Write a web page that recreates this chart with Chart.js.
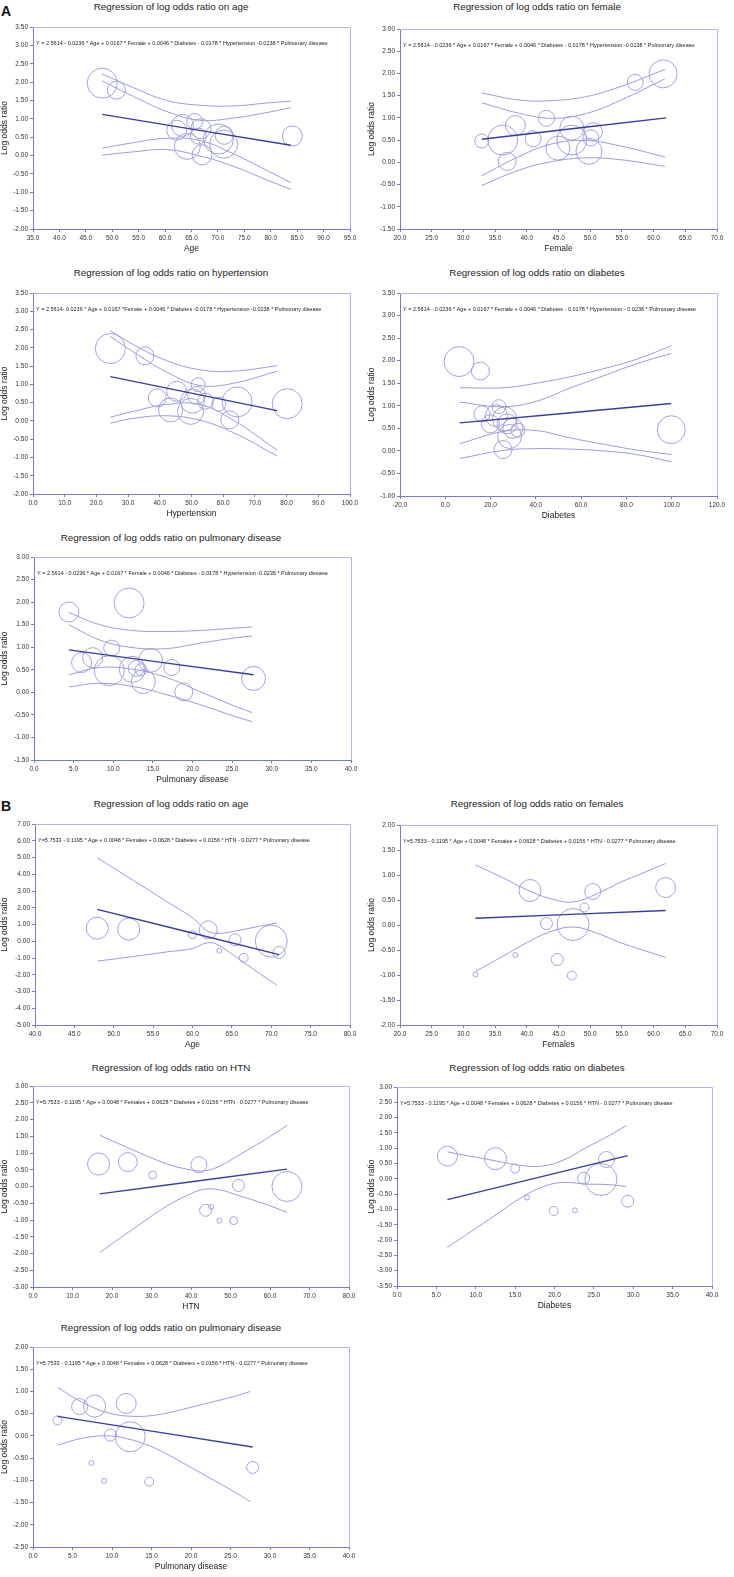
<!DOCTYPE html>
<html>
<head>
<meta charset="utf-8">
<script src="https://cdn.jsdelivr.net/npm/chart.js@4.4.0/dist/chart.umd.min.js"></script>
<style>
  body { margin: 0; background: #fff; width: 734px; height: 1577px; position: relative; overflow: hidden; }
  canvas { position: absolute; }
  .ttl { position: absolute; width: 320px; text-align: center; font: 9.8px "Liberation Sans", Arial, sans-serif; line-height: 12px; color: #222; white-space: nowrap; }
  .tag { position: absolute; font: bold 14px "Liberation Sans", Arial, sans-serif; line-height: 14px; color: #111; }
</style>
</head>
<body>
<div class="tag" style="left:1px;top:4px">A</div>
<div class="tag" style="left:1px;top:799px">B</div>
<script>
// ---- A: age ----
const aAgeX = [48.1, 50.8, 62.2, 63.3, 64.2, 65.6, 66.8, 66.3, 67.0, 70.1, 71.1, 71.2, 84.1];
const aAgeY = [1.97, 1.78, 0.69, 0.82, 0.25, 0.93, 0.73, 0.53, 0.02, 0.45, 0.31, 0.55, 0.53];
const aAgeR = [15, 9, 10, 11, 13, 8, 10, 8, 10, 15, 14, 9, 10];
const aAgeFitX = [48.1, 83.8];
const aAgeFitY = [1.12, 0.28];
const aAgeBandX = [48.1, 54.0, 60.3, 66.6, 72.9, 79.2, 83.8];
const aAgeUO = [2.22, 1.85, 1.50, 1.37, 1.35, 1.43, 1.48];
const aAgeUI = [2.03, 1.61, 1.20, 0.96, 1.02, 1.17, 1.30];
const aAgeLI = [0.20, 0.35, 0.47, 0.41, 0.05, -0.40, -0.74];
const aAgeLO = [0.01, 0.10, 0.16, -0.01, -0.29, -0.66, -0.92];

// ---- A: female ----
const aFemX = [32.9, 36.2, 36.9, 38.2, 41.0, 43.1, 44.9, 47.1, 47.1, 49.8, 50.5, 50.1, 57.1, 61.5];
const aFemY = [0.48, 0.50, 0.02, 0.83, 0.53, 0.99, 0.32, 0.77, 0.50, 0.25, 0.69, 0.55, 1.80, 1.99];
const aFemR = [7, 15, 9, 10, 8, 8, 12, 12, 15, 13, 9, 8, 8, 14];
const aFemFitX = [32.9, 62.0];
const aFemFitY = [0.52, 1.00];
const aFemBandX = [32.9, 38.9, 44.1, 49.4, 54.7, 61.8];
const aFemUO = [1.56, 1.40, 1.39, 1.48, 1.70, 2.09];
const aFemUI = [1.34, 1.10, 0.99, 1.10, 1.39, 1.88];
const aFemLI = [-0.30, 0.14, 0.42, 0.49, 0.37, 0.12];
const aFemLO = [-0.52, -0.17, 0.02, 0.10, 0.06, -0.09];

// ---- A: hypertension ----
const aHtnX = [24.4, 35.3, 39.2, 45.3, 43.4, 49.7, 50.3, 52.1, 51.6, 54.4, 58.6, 62.1, 64.4, 80.2];
const aHtnY = [1.98, 1.78, 0.63, 0.81, 0.30, 0.26, 0.54, 0.99, 0.70, 0.54, 0.46, 0.03, 0.52, 0.47];
const aHtnR = [15, 9, 9, 10, 12, 13, 12, 7, 9, 8, 7, 9, 15, 15];
const aHtnFitX = [24.4, 77.0];
const aHtnFitY = [1.21, 0.28];
const aHtnBandX = [24.4, 31.6, 42.1, 52.6, 63.2, 77.0];
const aHtnUO = [2.47, 2.09, 1.65, 1.40, 1.36, 1.51];
const aHtnUI = [2.31, 1.89, 1.34, 0.97, 1.03, 1.36];
const aHtnLI = [0.10, 0.26, 0.45, 0.45, 0.02, -0.80];
const aHtnLO = [-0.06, 0.07, 0.14, 0.02, -0.32, -0.96];

// ---- A: diabetes ----
const aDiaX = [6.1, 15.5, 16.2, 23.7, 19.9, 22.5, 26.2, 27.3, 29.9, 28.4, 32.1, 25.5, 99.8];
const aDiaY = [1.98, 1.77, 0.82, 0.98, 0.60, 0.78, 0.71, 0.60, 0.50, 0.32, 0.46, 0.03, 0.47];
const aDiaR = [15, 9, 8, 7, 9, 11, 12, 10, 10, 12, 7, 9, 14];
const aDiaFitX = [6.4, 99.8];
const aDiaFitY = [0.62, 1.05];
const aDiaBandX = [6.4, 25.5, 40.2, 54.9, 69.7, 84.4, 99.8];
const aDiaUO = [1.40, 1.40, 1.50, 1.64, 1.82, 2.03, 2.33];
const aDiaUI = [1.08, 0.98, 1.10, 1.39, 1.66, 1.93, 2.16];
const aDiaLI = [0.16, 0.43, 0.45, 0.29, 0.15, 0.02, -0.08];
const aDiaLO = [-0.17, 0.01, 0.05, 0.04, 0.00, -0.08, -0.24];

// ---- A: pulmonary disease ----
const aPulX = [4.4, 12.0, 6.0, 7.4, 9.8, 9.5, 12.4, 12.9, 13.5, 13.8, 14.7, 17.4, 18.9, 27.7];
const aPulY = [1.78, 1.98, 0.66, 0.77, 0.98, 0.48, 0.51, 0.53, 0.50, 0.24, 0.71, 0.55, 0.01, 0.31];
const aPulR = [10, 15, 10, 10, 8, 15, 13, 8, 6, 12, 12, 8, 9, 12];
const aPulFitX = [4.4, 27.7];
const aPulFitY = [0.94, 0.39];
const aPulBandX = [4.4, 8.3, 12.5, 16.7, 20.9, 25.1, 27.5];
const aPulUO = [1.77, 1.50, 1.37, 1.35, 1.37, 1.42, 1.45];
const aPulUI = [1.50, 1.16, 0.99, 0.97, 1.09, 1.20, 1.25];
const aPulLI = [0.39, 0.55, 0.51, 0.33, 0.02, -0.29, -0.45];
const aPulLO = [0.12, 0.20, 0.13, -0.05, -0.27, -0.52, -0.65];

// ---- B: age ----
const bAgeX = [47.9, 51.9, 60.0, 62.0, 63.4, 65.4, 66.5, 70.0, 71.0];
const bAgeY = [0.78, 0.72, 0.39, 0.68, -0.57, 0.09, -0.99, 0.01, -0.67];
const bAgeR = [11, 11, 4, 9, 2.5, 6, 4.5, 16, 6];
const bAgeFitX = [47.9, 71.0];
const bAgeFitY = [1.90, -0.80];
const bAgeBandX = [47.9, 52.5, 56.7, 60.1, 61.8, 63.1, 65.2, 67.7, 70.7];
const bAgeUp = [4.98, 3.63, 2.38, 1.36, 0.64, 0.47, 0.59, 0.82, 1.09];
const bAgeLo = [-1.19, -0.91, -0.64, -0.42, -0.10, -0.18, -0.83, -1.66, -2.62];

// ---- B: females ----
const bFemX = [31.9, 38.2, 40.5, 43.1, 44.8, 47.1, 47.3, 49.1, 50.4, 61.9];
const bFemY = [-0.99, -0.60, 0.69, 0.03, -0.69, -1.01, 0.01, 0.35, 0.67, 0.75];
const bFemR = [2.5, 2.5, 11, 6, 6, 4.5, 16, 4.5, 8, 10];
const bFemFitX = [31.9, 61.9];
const bFemFitY = [0.135, 0.29];
const bFemBandX = [31.9, 36.3, 39.9, 43.6, 47.3, 51.0, 54.7, 58.3, 61.9];
const bFemUp = [1.20, 0.94, 0.71, 0.53, 0.46, 0.62, 0.85, 1.04, 1.23];
const bFemLo = [-0.93, -0.62, -0.36, -0.14, -0.04, -0.16, -0.35, -0.50, -0.65];

// ---- B: HTN ----
const bHtnX = [16.6, 24.0, 30.3, 42.0, 43.7, 45.1, 47.2, 50.8, 52.0, 64.3];
const bHtnY = [0.67, 0.73, 0.34, 0.65, -0.71, -0.61, -1.02, -1.02, 0.03, 0.00];
const bHtnR = [11, 9.5, 4, 8, 6, 2.5, 2.5, 4, 6, 15];
const bHtnFitX = [16.9, 64.3];
const bHtnFitY = [-0.22, 0.52];
const bHtnBandX = [16.9, 25.3, 33.8, 39.7, 43.5, 47.3, 52.3, 58.2, 64.3];
const bHtnUp = [1.53, 1.09, 0.68, 0.50, 0.47, 0.61, 0.95, 1.36, 1.82];
const bHtnLo = [-1.97, -1.27, -0.59, -0.23, -0.08, -0.10, -0.28, -0.50, -0.77];

// ---- B: diabetes ----
const bDiaX = [6.4, 12.5, 15.0, 16.5, 19.9, 22.6, 23.7, 25.9, 26.6, 29.3];
const bDiaY = [0.74, 0.66, 0.34, -0.61, -1.05, -1.03, 0.02, -0.02, 0.63, -0.73];
const bDiaR = [10, 11, 4.5, 2.5, 4.5, 2.5, 6, 16, 8, 6];
const bDiaFitX = [6.4, 29.3];
const bDiaFitY = [-0.68, 0.76];
const bDiaBandX = [6.4, 9.3, 12.7, 15.6, 18.6, 21.1, 24.1, 27.0, 29.1];
const bDiaUp = [0.88, 0.74, 0.58, 0.44, 0.42, 0.61, 1.03, 1.42, 1.74];
const bDiaLo = [-2.24, -1.74, -1.15, -0.64, -0.25, -0.12, -0.17, -0.19, -0.25];

// ---- B: pulmonary disease ----
const bPulX = [3.1, 5.9, 7.8, 7.4, 9.0, 9.8, 11.8, 12.3, 14.7, 27.8];
const bPulY = [0.35, 0.66, 0.67, -0.61, -1.01, 0.02, 0.73, -0.02, -1.03, -0.71];
const bPulR = [4.5, 8, 11, 2.5, 2.5, 6, 10, 15, 4.5, 6];
const bPulFitX = [3.1, 27.8];
const bPulFitY = [0.44, -0.25];
const bPulBandX = [3.1, 6.3, 9.7, 12.7, 15.6, 19.0, 22.4, 25.3, 27.5];
const bPulUp = [1.09, 0.75, 0.51, 0.44, 0.47, 0.60, 0.75, 0.88, 1.00];
const bPulLo = [-0.21, -0.05, 0.00, -0.10, -0.29, -0.61, -0.95, -1.24, -1.48];

const formulaA = 'Y = 2.5614 - 0.0236 * Age + 0.0167 * Female + 0.0046 * Diabetes - 0.0178 * Hypertension -0.0238 * Pulmonary disease';
const formulaA3 = 'Y = 2.5614- 0.0236 * Age + 0.0167 *Female + 0.0046 * Diabetes -0.0178 * Hypertension -0.0238 * Pulmonary disease';
const formulaA4 = 'Y = 2.5614 - 0.0236 * Age + 0.0167 * Female + 0.0046 * Diabetes - 0.0178 * Hypertension - 0.0238 * Pulmonary disease';
const formulaB = 'Y=5.7533 - 0.1195 * Age + 0.0048 * Females + 0.0628 * Diabetes + 0.0156 * HTN - 0.0277 * Pulmonary disease';

const FONT = '"Liberation Sans", Arial, sans-serif';
const FIT_COLOR = '#3a3aa6';
const BAND_COLOR = '#9a9ade';
const BUBBLE_COLOR = '#a2a2e2';
const AXIS_COLOR = '#7a7acc';

function pts(xs, ys) { return xs.map((x, i) => ({ x: x, y: ys[i] })); }

function bubbleSet(xs, ys, rs) {
    return { type: 'bubble', data: xs.map((x, i) => ({ x: x, y: ys[i], r: rs[i] })),
        backgroundColor: 'rgba(0,0,0,0)', borderColor: BUBBLE_COLOR, borderWidth: 1, order: 3 };
}

function lineSet(xs, ys, color, width) {
    return { type: 'line', data: pts(xs, ys), borderColor: color, borderWidth: width,
        pointRadius: 0, tension: 0.4, fill: false, order: 1 };
}

// plot box = [left, right, top, bottom] on the page, titleY = title centre
const panels = [
    { title: 'Regression of log odds ratio on age', xTitle: 'Age', formula: formulaA, fw: 292,
      xr: [35, 95, 5], yr: [-2, 3.5, 0.5], box: [33, 350, 21, 229], titleY: 7, col: 0,
      sets: [bubbleSet(aAgeX, aAgeY, aAgeR), lineSet(aAgeFitX, aAgeFitY, FIT_COLOR, 1.4),
             lineSet(aAgeBandX, aAgeUO, BAND_COLOR, 1), lineSet(aAgeBandX, aAgeUI, BAND_COLOR, 1),
             lineSet(aAgeBandX, aAgeLI, BAND_COLOR, 1), lineSet(aAgeBandX, aAgeLO, BAND_COLOR, 1)] },
    { title: 'Regression of log odds ratio on female', xTitle: 'Female', formula: formulaA, fw: 292,
      xr: [20, 70, 5], yr: [-1.5, 3, 0.5], box: [400, 717, 23, 229], titleY: 7, col: 1,
      sets: [bubbleSet(aFemX, aFemY, aFemR), lineSet(aFemFitX, aFemFitY, FIT_COLOR, 1.4),
             lineSet(aFemBandX, aFemUO, BAND_COLOR, 1), lineSet(aFemBandX, aFemUI, BAND_COLOR, 1),
             lineSet(aFemBandX, aFemLI, BAND_COLOR, 1), lineSet(aFemBandX, aFemLO, BAND_COLOR, 1)] },
    { title: 'Regression of log odds ratio on hypertension', xTitle: 'Hypertension', formula: formulaA3, fw: 286,
      xr: [0, 100, 10], yr: [-2, 3.5, 0.5], box: [33, 350, 287, 494], titleY: 273, col: 0,
      sets: [bubbleSet(aHtnX, aHtnY, aHtnR), lineSet(aHtnFitX, aHtnFitY, FIT_COLOR, 1.4),
             lineSet(aHtnBandX, aHtnUO, BAND_COLOR, 1), lineSet(aHtnBandX, aHtnUI, BAND_COLOR, 1),
             lineSet(aHtnBandX, aHtnLI, BAND_COLOR, 1), lineSet(aHtnBandX, aHtnLO, BAND_COLOR, 1)] },
    { title: 'Regression of log odds ratio on diabetes', xTitle: 'Diabetes', formula: formulaA4, fw: 293,
      xr: [-20, 120, 20], yr: [-1, 3.5, 0.5], box: [400, 717, 287, 496], titleY: 273, col: 1,
      sets: [bubbleSet(aDiaX, aDiaY, aDiaR), lineSet(aDiaFitX, aDiaFitY, FIT_COLOR, 1.4),
             lineSet(aDiaBandX, aDiaUO, BAND_COLOR, 1), lineSet(aDiaBandX, aDiaUI, BAND_COLOR, 1),
             lineSet(aDiaBandX, aDiaLI, BAND_COLOR, 1), lineSet(aDiaBandX, aDiaLO, BAND_COLOR, 1)] },
    { title: 'Regression of log odds ratio on pulmonary disease', xTitle: 'Pulmonary disease', formula: formulaA, fw: 291,
      xr: [0, 40, 5], yr: [-1.5, 3, 0.5], box: [34, 352, 551, 760], titleY: 538, col: 0,
      sets: [bubbleSet(aPulX, aPulY, aPulR), lineSet(aPulFitX, aPulFitY, FIT_COLOR, 1.4),
             lineSet(aPulBandX, aPulUO, BAND_COLOR, 1), lineSet(aPulBandX, aPulUI, BAND_COLOR, 1),
             lineSet(aPulBandX, aPulLI, BAND_COLOR, 1), lineSet(aPulBandX, aPulLO, BAND_COLOR, 1)] },
    { title: 'Regression of log odds ratio on age', xTitle: 'Age', formula: formulaB, fw: 272,
      xr: [40, 80, 5], yr: [-5, 7, 1], box: [35, 350, 817, 1025], titleY: 804, col: 0,
      sets: [bubbleSet(bAgeX, bAgeY, bAgeR), lineSet(bAgeFitX, bAgeFitY, FIT_COLOR, 1.4),
             lineSet(bAgeBandX, bAgeUp, BAND_COLOR, 1), lineSet(bAgeBandX, bAgeLo, BAND_COLOR, 1)] },
    { title: 'Regression of log odds ratio on females', xTitle: 'Females', formula: formulaB, fw: 273,
      xr: [20, 70, 5], yr: [-2, 2, 0.5], box: [400, 717, 818, 1025], titleY: 804, col: 1,
      sets: [bubbleSet(bFemX, bFemY, bFemR), lineSet(bFemFitX, bFemFitY, FIT_COLOR, 1.4),
             lineSet(bFemBandX, bFemUp, BAND_COLOR, 1), lineSet(bFemBandX, bFemLo, BAND_COLOR, 1)] },
    { title: 'Regression of log odds ratio on HTN', xTitle: 'HTN', formula: formulaB, fw: 273,
      xr: [0, 80, 10], yr: [-3, 3, 0.5], box: [33, 349, 1080, 1287], titleY: 1068, col: 0,
      sets: [bubbleSet(bHtnX, bHtnY, bHtnR), lineSet(bHtnFitX, bHtnFitY, FIT_COLOR, 1.4),
             lineSet(bHtnBandX, bHtnUp, BAND_COLOR, 1), lineSet(bHtnBandX, bHtnLo, BAND_COLOR, 1)] },
    { title: 'Regression of log odds ratio on diabetes', xTitle: 'Diabetes', formula: formulaB, fw: 273,
      xr: [0, 40, 5], yr: [-3.5, 3, 0.5], box: [397, 712, 1080, 1286], titleY: 1068, col: 1,
      sets: [bubbleSet(bDiaX, bDiaY, bDiaR), lineSet(bDiaFitX, bDiaFitY, FIT_COLOR, 1.4),
             lineSet(bDiaBandX, bDiaUp, BAND_COLOR, 1), lineSet(bDiaBandX, bDiaLo, BAND_COLOR, 1)] },
    { title: 'Regression of log odds ratio on pulmonary disease', xTitle: 'Pulmonary disease', formula: formulaB, fw: 272,
      xr: [0, 40, 5], yr: [-2.5, 2, 0.5], box: [33, 349, 1341, 1547], titleY: 1328, col: 0,
      sets: [bubbleSet(bPulX, bPulY, bPulR), lineSet(bPulFitX, bPulFitY, FIT_COLOR, 1.4),
             lineSet(bPulBandX, bPulUp, BAND_COLOR, 1), lineSet(bPulBandX, bPulLo, BAND_COLOR, 1)] }
];

// top/right frame lines + the regression equation inside the plot
const framePlugin = {
    id: 'frame',
    afterDraw(chart, args, opts) {
        const { ctx, chartArea: a } = chart;
        ctx.save();
        ctx.strokeStyle = '#b4b4e6';
        ctx.lineWidth = 1;
        ctx.beginPath();
        ctx.moveTo(Math.round(a.left), Math.round(a.top) + 0.5);
        ctx.lineTo(Math.round(a.right) + 0.5, Math.round(a.top) + 0.5);
        ctx.lineTo(Math.round(a.right) + 0.5, Math.round(a.bottom));
        ctx.stroke();

        ctx.font = '10px ' + FONT;
        const w = ctx.measureText(opts.text).width;
        const size = 10 * opts.width / w;
        ctx.font = size.toFixed(2) + 'px ' + FONT;
        ctx.fillStyle = '#222';
        ctx.textBaseline = 'middle';
        ctx.fillText(opts.text, a.left + 3, a.top + 16.5);
        ctx.restore();
    }
};

const CW = 367;
const X_AXIS_H = 25;
const TOP_PAD = 10;

panels.forEach(p => {
    const [pl, pr, pt, pb] = p.box;
    const cl = p.col * CW;
    const ct = pt - TOP_PAD;
    const ch = pb + X_AXIS_H - ct;

    const t = document.createElement('div');
    t.className = 'ttl';
    t.textContent = p.title;
    t.style.left = (p.col ? 537 : 171) - 160 + 'px';
    t.style.top = (p.titleY - 6) + 'px';
    document.body.appendChild(t);

    const cv = document.createElement('canvas');
    cv.width = CW;
    cv.height = ch;
    cv.style.left = cl + 'px';
    cv.style.top = ct + 'px';
    document.body.appendChild(cv);

    const tickFont = { size: 6.5, family: FONT };
    const titleFont = { size: 8.5, family: FONT };

    new Chart(cv.getContext('2d'), {
        type: 'scatter',
        data: { datasets: p.sets },
        options: {
            responsive: false,
            animation: false,
            events: [],
            layout: { padding: { left: 0, right: cl + CW - pr, top: TOP_PAD, bottom: 0 } },
            plugins: {
                legend: { display: false },
                tooltip: { enabled: false },
                title: { display: false },
                frame: { text: p.formula, width: p.fw }
            },
            scales: {
                x: {
                    type: 'linear', position: 'bottom',
                    min: p.xr[0], max: p.xr[1],
                    afterFit: s => { s.height = X_AXIS_H; },
                    grid: { display: true, drawOnChartArea: false, drawTicks: true, tickLength: 3, color: AXIS_COLOR },
                    border: { display: true, color: AXIS_COLOR, width: 1 },
                    ticks: { stepSize: p.xr[2], autoSkip: false, maxRotation: 0, padding: 2, color: '#333', font: tickFont,
                             callback: v => Number(v).toFixed(1) },
                    title: { display: true, text: p.xTitle, color: '#222', font: titleFont, padding: 0 }
                },
                y: {
                    type: 'linear', position: 'left',
                    min: p.yr[0], max: p.yr[1],
                    afterFit: s => { s.width = pl - cl; },
                    grid: { display: true, drawOnChartArea: false, drawTicks: true, tickLength: 3, color: AXIS_COLOR },
                    border: { display: true, color: AXIS_COLOR, width: 1 },
                    ticks: { stepSize: p.yr[2], autoSkip: false, padding: 2, color: '#333', font: tickFont,
                             callback: v => Number(v).toFixed(2) },
                    title: { display: true, text: 'Log odds ratio', color: '#222', font: titleFont, padding: 0 }
                }
            }
        },
        plugins: [framePlugin]
    });
});
</script>
</body>
</html>
